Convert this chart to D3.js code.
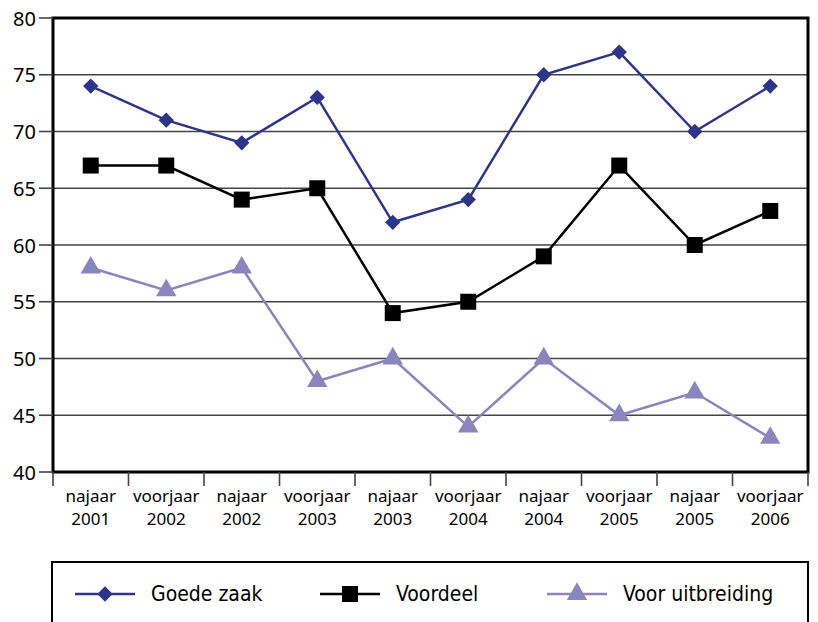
<!DOCTYPE html>
<html>
<head>
<meta charset="utf-8">
<script src="https://cdn.jsdelivr.net/npm/d3@7.9.0/dist/d3.min.js"></script>
<style>
  body { margin: 0; background: #fff; }
  svg { display: block; }
  text { font-family: "Noto Sans", "DejaVu Sans", sans-serif; fill: #000; }
  .legend text { font-family: "DejaVu Sans Condensed", "Liberation Sans", sans-serif; }
</style>
</head>
<body>
<svg id="chart" width="818" height="622"></svg>
<script>
const categories = [
  ['najaar', '2001'], ['voorjaar', '2002'], ['najaar', '2002'], ['voorjaar', '2003'],
  ['najaar', '2003'], ['voorjaar', '2004'], ['najaar', '2004'], ['voorjaar', '2005'],
  ['najaar', '2005'], ['voorjaar', '2006']
];
const goedeZaak = [74, 71, 69, 73, 62, 64, 75, 77, 70, 74];
const voordeel = [67, 67, 64, 65, 54, 55, 59, 67, 60, 63];
const voorUitbreiding = [58, 56, 58, 48, 50, 44, 50, 45, 47, 43];
const yTicks = [40, 45, 50, 55, 60, 65, 70, 75, 80];

const series = [
  { name: 'Goede zaak', values: goedeZaak, color: '#2e3589', marker: 'diamond' },
  { name: 'Voordeel', values: voordeel, color: '#000000', marker: 'square' },
  { name: 'Voor uitbreiding', values: voorUitbreiding, color: '#8a86bd', marker: 'triangle' }
];

const plot = { left: 53, right: 808, top: 18, bottom: 472 };
const svg = d3.select('#chart');

const x = d3.scaleBand().domain(d3.range(categories.length)).range([plot.left, plot.right]);
const y = d3.scaleLinear().domain([40, 80]).range([plot.bottom, plot.top]);

// grid lines
svg.append('g')
  .selectAll('line')
  .data(yTicks.filter(d => d > 40 && d < 80))
  .join('line')
  .attr('x1', plot.left).attr('x2', plot.right)
  .attr('y1', d => y(d)).attr('y2', d => y(d))
  .attr('stroke', '#444').attr('stroke-width', 1.6);

// frame
svg.append('rect')
  .attr('x', plot.left).attr('y', plot.top)
  .attr('width', plot.right - plot.left).attr('height', plot.bottom - plot.top)
  .attr('fill', 'none').attr('stroke', '#000').attr('stroke-width', 3);

// y axis ticks + labels
const yAxis = svg.append('g');
yTicks.forEach(t => {
  yAxis.append('line')
    .attr('x1', plot.left - 14).attr('x2', plot.left)
    .attr('y1', y(t)).attr('y2', y(t))
    .attr('stroke', '#444').attr('stroke-width', 1.6);
  yAxis.append('text')
    .attr('x', plot.left - 17).attr('y', y(t))
    .attr('text-anchor', 'end').attr('dominant-baseline', 'central')
    .attr('font-size', 20)
    .text(t);
});

// x axis ticks + labels
const xAxis = svg.append('g');
d3.range(categories.length + 1).forEach(i => {
  const xp = i < categories.length ? x(i) : plot.right;
  xAxis.append('line')
    .attr('x1', xp).attr('x2', xp)
    .attr('y1', plot.bottom).attr('y2', plot.bottom + 14)
    .attr('stroke', '#444').attr('stroke-width', 1.6);
});
categories.forEach((c, i) => {
  const cx = x(i) + x.bandwidth() / 2;
  const t = xAxis.append('text').attr('text-anchor', 'middle').attr('font-size', 17);
  t.append('tspan').attr('x', cx).attr('y', plot.bottom + 30).text(c[0]);
  t.append('tspan').attr('x', cx).attr('y', plot.bottom + 53).text(c[1]);
});

const symbolFor = {
  diamond: d3.symbol().type(d3.symbolDiamond2).size(150),
  square: d3.symbol().type(d3.symbolSquare).size(256),
  triangle: d3.symbol().type(d3.symbolTriangle).size(180)
};

const line = d3.line()
  .x((d, i) => x(i) + x.bandwidth() / 2)
  .y(d => y(d));

series.forEach(s => {
  svg.append('path')
    .attr('d', line(s.values))
    .attr('fill', 'none')
    .attr('stroke', s.color)
    .attr('stroke-width', 2.5);
  svg.append('g')
    .selectAll('path')
    .data(s.values)
    .join('path')
    .attr('d', symbolFor[s.marker])
    .attr('transform', (d, i) => `translate(${x(i) + x.bandwidth() / 2},${y(d)})`)
    .attr('fill', s.color);
});

// legend
const legend = svg.append('g').attr('class', 'legend');
legend.append('rect')
  .attr('x', 52).attr('y', 562)
  .attr('width', 756).attr('height', 80)
  .attr('fill', 'none').attr('stroke', '#000').attr('stroke-width', 2);

const legendX = [75, 320, 547];
series.forEach((s, i) => {
  const lx = legendX[i], ly = 594;
  legend.append('line')
    .attr('x1', lx).attr('x2', lx + 60)
    .attr('y1', ly).attr('y2', ly)
    .attr('stroke', s.color).attr('stroke-width', 2.5);
  legend.append('path')
    .attr('d', symbolFor[s.marker])
    .attr('transform', `translate(${lx + 30},${ly})`)
    .attr('fill', s.color);
  legend.append('text')
    .attr('x', lx + 76).attr('y', ly)
    .attr('dominant-baseline', 'central')
    .attr('font-size', 21)
    .text(s.name);
});
</script>
</body>
</html>
